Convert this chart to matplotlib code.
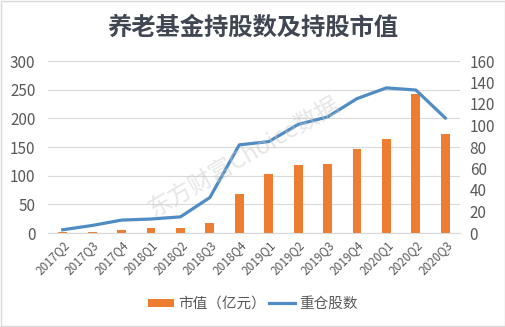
import matplotlib.pyplot as plt
from matplotlib.patches import Rectangle

plt.rcParams['font.family'] = ['Noto Sans CJK SC', 'DejaVu Sans']

# datos
quarters = ["2017Q2", "2017Q3", "2017Q4", "2018Q1", "2018Q2", "2018Q3", "2018Q4",
            "2019Q1", "2019Q2", "2019Q3", "2019Q4", "2020Q1", "2020Q2", "2020Q3"]
market_value = [1, 1, 6, 8, 8, 17, 68, 103, 119, 121, 147, 164, 243, 173]
heavy_stocks = [3, 7, 12, 13, 15, 33, 82, 85, 101, 108, 125, 135, 133, 107]

fig = plt.figure(figsize=(5.06, 3.27), dpi=100)
ax = fig.add_axes([48 / 506, 1 - 233 / 327, (460 - 48) / 506, (233 - 61) / 327])
ax2 = ax.twinx()

x = range(len(quarters))
ax.bar(x, market_value, width=0.3, color="#ED7D31", label="市值（亿元）", zorder=3)
ax2.plot(x, heavy_stocks, color="#4F8CC4", lw=2.3, label="重仓股数", zorder=4)

ax.set_ylim(0, 300)
ax.set_yticks(range(0, 301, 50))
ax2.set_ylim(0, 160)
ax2.set_yticks(range(0, 161, 20))
ax.set_xlim(-0.5, len(quarters) - 0.5)
ax.set_xticks(list(x))
ax.set_xticklabels(quarters, rotation=45, ha="right", rotation_mode="anchor", color="#595959")

ax.grid(axis="y", color="#D9D9D9", lw=0.8, zorder=0)
for a in (ax, ax2):
    for s in ["top", "left", "right"]:
        a.spines[s].set_visible(False)
    a.spines["bottom"].set_color("#D9D9D9")
    a.tick_params(length=0, labelsize=11, labelcolor="#595959")
ax.tick_params(axis="x", labelsize=8.5, pad=4)
ax.tick_params(axis="y", pad=9)
ax2.tick_params(axis="y", pad=7)

fig.text(0.5, 0.915, "养老基金持股数及持股市值", ha="center", va="center",
         fontsize=17.5, fontweight="bold", color="#404652")

fig.text(244 / 506, 1 - 157 / 327, "东方财富Choice数据", ha="center", va="center", rotation=30,
         fontsize=17, color="#C8C8C8", alpha=0.45, zorder=10)

h1, l1 = ax.get_legend_handles_labels()
h2, l2 = ax2.get_legend_handles_labels()
fig.legend(h1 + h2, l1 + l2, loc="center", bbox_to_anchor=(0.5, 1 - 304 / 327), ncol=2,
           frameon=False, fontsize=10.5, labelcolor="#595959", handlelength=1.8,
           handleheight=0.5, handletextpad=0.3, columnspacing=0.2)

fig.patches.append(Rectangle((0.002, 0.003), 0.996, 0.994, transform=fig.transFigure,
                             fill=False, edgecolor="#D9D9D9", lw=1))

fig.savefig("out.png", dpi=100)
